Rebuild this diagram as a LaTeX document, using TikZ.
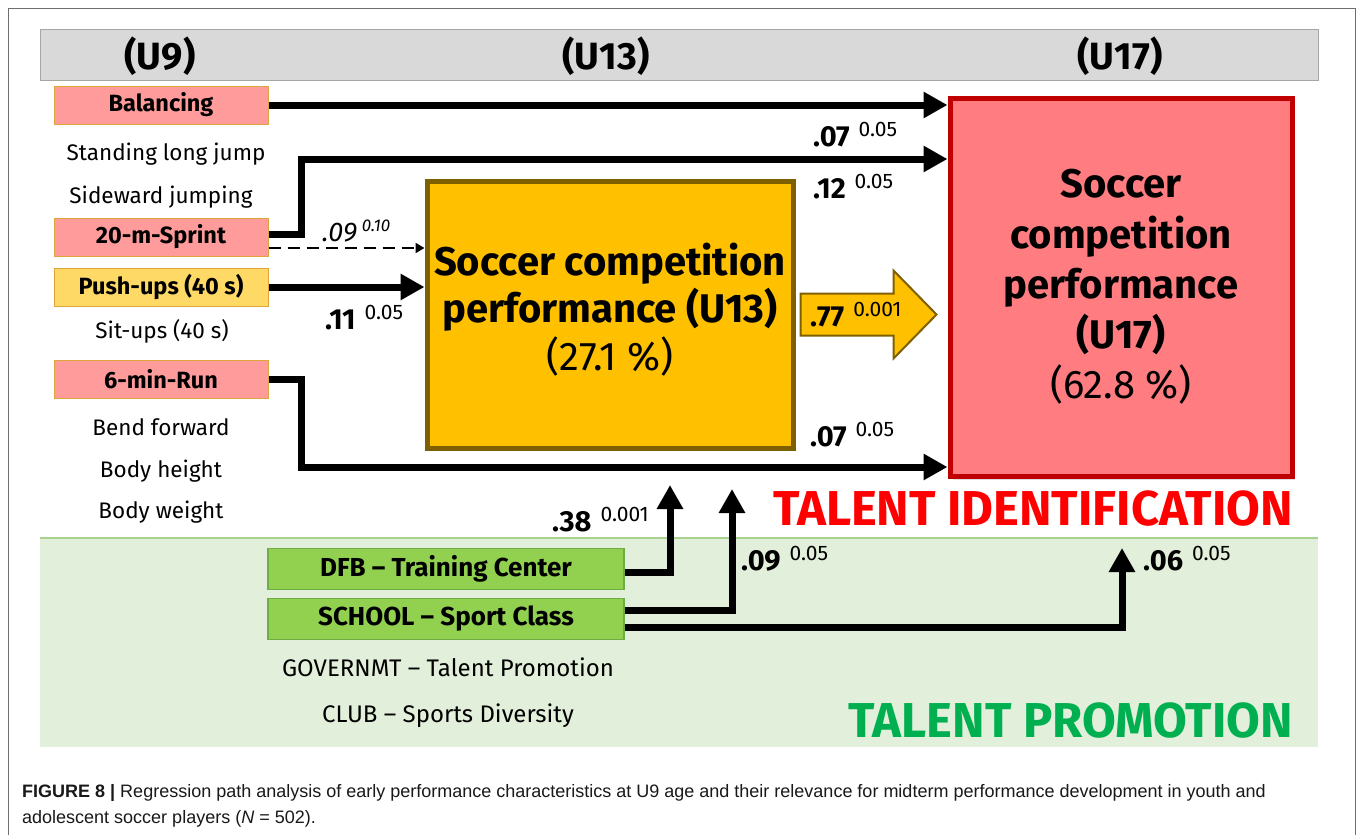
\documentclass[tikz,border=0pt]{standalone}
\usepackage{fontspec}
\setmainfont{Fira Sans}
\newfontfamily\capfont{Liberation Sans}
\usetikzlibrary{arrows.meta,calc,shadows}
\definecolor{hdrgray}{HTML}{D9D9D9}
\definecolor{hdrline}{HTML}{A6A6A6}
\definecolor{pinkfill}{HTML}{FF9B9B}
\definecolor{yellowfill}{HTML}{FFD966}
\definecolor{boxline}{HTML}{DDA53A}
\definecolor{greenfill}{HTML}{92D050}
\definecolor{greenline}{HTML}{6FAC46}
\definecolor{uthirteen}{HTML}{FFC000}
\definecolor{uthirteenline}{HTML}{7F6000}
\definecolor{useventeen}{HTML}{FF7C80}
\definecolor{useventeenline}{HTML}{C00000}
\definecolor{bandfill}{HTML}{E2EFDA}
\definecolor{bandline}{HTML}{A9D18E}
\definecolor{tired}{HTML}{FF0000}
\definecolor{tpgreen}{HTML}{00B050}
\definecolor{framegray}{HTML}{6E6E6E}
\newcommand{\cf}[2]{{\fontsize{29}{29}\selectfont\bfseries #1}\hspace{9pt}\raisebox{10pt}{\fontsize{21}{21}\selectfont #2}}
\newcommand{\cfi}[2]{{\fontsize{27}{27}\selectfont\itshape #1}\hspace{5pt}\raisebox{10pt}{\fontsize{17}{17}\selectfont\itshape #2}}
\begin{document}
\begin{tikzpicture}[x=1pt,y=-1pt,
  leftbox/.style={draw=boxline,line width=1pt,minimum width=214pt,minimum height=38pt,inner sep=0pt,font=\fontsize{23.5}{23.5}\selectfont\bfseries},
  plain/.style={inner sep=0pt,font=\fontsize{22.5}{22.5}\selectfont,anchor=base},
  plainb/.style={inner sep=0pt,font=\fontsize{24}{24}\selectfont,anchor=base},
  greenbox/.style={fill=greenfill,draw=greenline,line width=1.5pt,minimum width=356pt,minimum height=41pt,inner sep=0pt,font=\fontsize{26}{26}\selectfont\bfseries},
  bigtxt/.style={inner sep=0pt,anchor=base,font=\fontsize{40}{40}\selectfont\bfseries},
  coef/.style={inner sep=0pt,anchor=base west},
  thickarr/.style={line width=7pt,-{Triangle[length=24pt,width=25pt]}},
  hdrtxt/.style={inner sep=0pt,anchor=base,font=\fontsize{38}{38}\selectfont\bfseries},
  talent/.style={inner sep=0pt,anchor=base east,font=\fontsize{49}{49}\selectfont\bfseries},
  bigbox/.style={line width=5pt,inner sep=0pt,drop shadow={shadow xshift=3pt,shadow yshift=-3pt,opacity=0.25}}]
\useasboundingbox (0,0) rectangle (1358,835);
\fill[white] (0,0) rectangle (1358,835);
% outer frame
\draw[framegray,line width=1pt] (8,850) -- (8,8) -- (1355,8) -- (1355,850);
% header band
\node (hdr) [fill=hdrgray,draw=hdrline,line width=1pt,minimum width=1278pt,minimum height=51pt,inner sep=0pt,anchor=north west] at (40,29) {};
\node (hu9) [hdrtxt] at (160,69) {(U9)};
\node (hu13) [hdrtxt] at (606,69) {(U13)};
\node (hu17) [hdrtxt] at (1120,69) {(U17)};
% talent promotion band
\node (band) [fill=bandfill,minimum width=1278pt,minimum height=209pt,inner sep=0pt,anchor=north west] at (40,538) {};
\draw[bandline,line width=1.2pt] (band.north west) -- (band.north east);
% left column
\node (bal) [leftbox,fill=pinkfill] at (161,105) {Balancing};
\node (slj) [plain] at (166,160) {Standing long jump};
\node (swj) [plain] at (161,203) {Sideward jumping};
\node (spr) [leftbox,fill=pinkfill] at (161,237) {20-m-Sprint};
\node (push) [leftbox,fill=yellowfill] at (161,287) {Push-ups (40 s)};
\node (sit) [plain] at (162,338) {Sit-ups (40 s)};
\node (run) [leftbox,fill=pinkfill] at (161,379) {6-min-Run};
\node (bend) [plain] at (161,435) {Bend forward};
\node (bh) [plain] at (161,477) {Body height};
\node (bw) [plain] at (161,518) {Body weight};
% U13 box
\node (u13) [bigbox,fill=uthirteen,draw=uthirteenline,minimum width=366pt,minimum height=267pt] at (610,314.5) {};
\node (u13a) [bigtxt] at (610,275) {Soccer competition};
\node (u13b) [bigtxt] at (610,322) {performance (U13)};
\node (u13c) [bigtxt,font=\fontsize{40}{40}\selectfont] at (610,370) {(27.1 \%)};
% U17 box
\node (u17) [bigbox,fill=useventeen,draw=useventeenline,minimum width=342pt,minimum height=378pt] at (1121,287.5) {};
\node (u17a) [bigtxt] at (1121,197) {Soccer};
\node (u17b) [bigtxt] at (1121,248) {competition};
\node (u17c) [bigtxt] at (1121,298) {performance};
\node (u17d) [bigtxt] at (1121,348) {(U17)};
\node (u17e) [bigtxt,font=\fontsize{40}{40}\selectfont] at (1121,398) {(62.8 \%)};
% block arrow U13 -> U17
\coordinate (ba0) at ($(u13.east)+(5,0)$);
\coordinate (ba1) at ($(u17.west |- u13.east)+(-11,0)$);
\filldraw[fill=uthirteen,draw=uthirteenline,line width=2pt,line join=miter] ($(ba0)+(0,-21)$) -- ($(ba1)+(-43,-21)$) -- ($(ba1)+(-43,-44)$) -- (ba1) -- ($(ba1)+(-43,44)$) -- ($(ba1)+(-43,21)$) -- ($(ba0)+(0,21)$) -- cycle;
% green boxes
\node (dfb) [greenbox] at (446,569) {DFB -- Training Center};
\node (school) [greenbox] at (446,619) {SCHOOL -- Sport Class};
\node (gov) [plainb] at (448,676) {GOVERNMT -- Talent Promotion};
\node (club) [plainb] at (448,722) {CLUB -- Sports Diversity};
% connectors
\coordinate (k159) at (0,159);
\coordinate (k467) at (0,467);
\draw[thickarr] (bal.east) -- (bal.east -| u17.west);
\draw[thickarr] ($(spr.east)+(0,-3)$) -- ++(33,0) |- (u17.west |- k159);
\draw[line width=2pt,dash pattern=on 12pt off 7pt,-{Triangle[length=9pt,width=10pt]}] ($(spr.east)+(0,11)$) -- ($(spr.east -| u13.west)+(0,11)$);
\draw[thickarr] (push.east) -- (push.east -| u13.west);
\draw[thickarr] (run.east) -- ++(33,0) |- (u17.west |- k467);
\coordinate (t1) at (670,485);
\coordinate (t2) at (732,489);
\coordinate (t3) at (1122,548);
\draw[thickarr] ($(dfb.east)+(0,3)$) -| (t1);
\draw[thickarr] ($(school.east)+(0,-9)$) -| (t2);
\draw[thickarr] ($(school.east)+(0,8)$) -| (t3);
% coefficients
\node (c1) [coef] at (813,146) {\cf{.07}{0.05}};
\node (c2) [coef] at (813,198) {\cf{.12}{0.05}};
\node (c3) [coef] at (322,241) {\cfi{.09}{0.10}};
\node (c4) [coef] at (325,329) {\cf{.11}{0.05}};
\node (c5) [coef] at (810,326) {\cf{.77}{0.001}};
\node (c6) [coef] at (810,446) {\cf{.07}{0.05}};
\node (c7) [coef] at (552,531) {\cf{.38}{0.001}};
\node (c8) [coef] at (741,570) {\cf{.09}{0.05}};
\node (c9) [coef] at (1143,570) {\cf{.06}{0.05}};
% talent labels
\node (tid) [talent,text=tired] at (1293,525) {TALENT IDENTIFICATION};
\node (tpr) [talent,text=tpgreen] at (1293,737) {TALENT PROMOTION};
% caption
\node (cap) [inner sep=0pt,anchor=base west,align=left,font=\fontsize{18}{26}\capfont,text=black!90] at (22,823) {\textbf{FIGURE 8 |} Regression path analysis of early performance characteristics at U9 age and their relevance for midterm performance development in youth and\\adolescent soccer players (\textit{N} = 502).};
\end{tikzpicture}
\end{document}
